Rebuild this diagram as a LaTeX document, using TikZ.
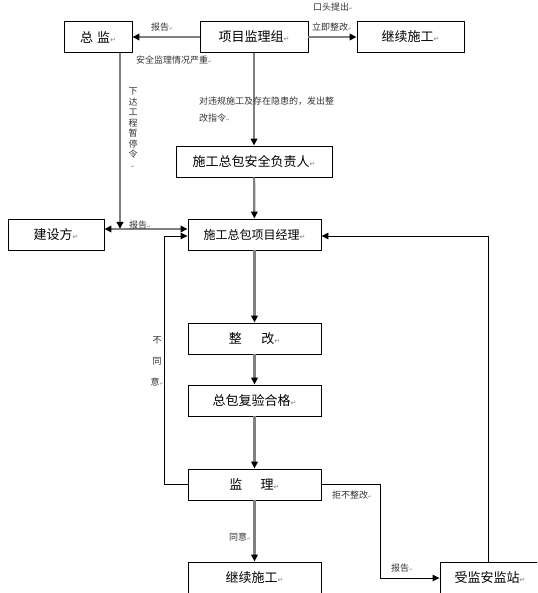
\documentclass[tikz,border=0pt]{standalone}
\usepackage{fontspec}
\setmainfont{Noto Sans CJK SC}
\newfontfamily\markfont{DejaVu Sans}
\usetikzlibrary{arrows.meta,positioning}
\newcommand{\parmark}{{\fontsize{7}{8}\markfont\color{gray}↵}}
\newcommand{\lmark}{{\fontsize{4.5}{5}\markfont\color{gray}↵}}

\begin{document}
\begin{tikzpicture}[x=1pt,y=-1pt,
    tri/.tip={Triangle[length=7pt,width=6.5pt,color=black]},
    box/.style={draw, line width=0.9pt, minimum height=31pt, inner sep=0pt, font=\fontsize{13}{15}\selectfont},
    flow/.style={draw=gray, line width=2.2pt, -tri},
    back/.style={draw=black, line width=0.9pt, -tri},
    lab/.style={font=\fontsize{9}{11}\selectfont, text=black!80, inner sep=0pt}]
    \useasboundingbox (0,0) rectangle (537,593);
    \clip (0,0) rectangle (537,593);
    \node[box, minimum width=68pt] (zj) at (98,37) {总\hspace{4pt}监\parmark};
    \node[box, minimum width=108pt] (xm) at (254,37) {项目监理组\parmark};
    \node[box, minimum width=107pt] (jx) at (410.5,37) {继续施工\parmark};
    \node[box, minimum width=156pt] (aq) at (254,161.5) {施工总包安全负责人\parmark};
    \node[box, minimum width=96pt] (js) at (56,234.5) {建设方\parmark};
    \node[box, minimum width=133pt, font=\fontsize{12}{14}\selectfont] (jl) at (254.5,234.5) {施工总包项目经理\parmark};
    \node[box, minimum width=133pt] (zg) at (254.5,338.5) {整\hspace{1.5em}改\parmark};
    \node[box, minimum width=133pt] (fy) at (254.5,400.5) {总包复验合格\parmark};
    \node[box, minimum width=133pt] (jli) at (254.5,484.5) {监\hspace{1.4em}理\parmark};
    \node[box, minimum width=133pt, text height=20pt, text depth=20pt] (jx2) at (254.5,582) {继续施工\parmark};
    \node[box, minimum width=100pt, text height=20pt, text depth=20pt] (ajz) at (490,582) {受监安监站\parmark};
    \draw[flow] (xm) -- (zj);
    \draw[flow] (xm) -- (jx);
    \draw[flow] (xm) -- (aq);
    \draw[flow] (aq) -- (jl);
    \draw[flow] (jl) -- (zg);
    \draw[flow] (zg) -- (fy);
    \draw[flow] (fy) -- (jli);
    \draw[flow] (jli) -- (jx2);
    \coordinate (bg) at (120,229);
    \draw[flow] (zj.south -| bg) -- (bg);
    \draw[flow, tri-tri] ([yshift=5.5pt]js.east) -- ([yshift=5.5pt]jl.west);
    \coordinate (lp) at (164,236);
    \draw[back] (jli.west) -| (lp) -- (lp -| jl.west);
    \coordinate (rp) at (380,578);
    \draw[back] (jli.east) -| (rp) -- (rp -| ajz.west);
    \coordinate (up) at (488,236);
    \draw[back] (ajz.north -| up) -- (up) -- (up -| jl.east);
    \node[lab] (l1) at (162,27) {报告\lmark};
    \node[lab, anchor=west] (l2) at (136,60) {安全监理情况严重\lmark};
    \node[lab] (l3) at (333,7) {口头提出\lmark};
    \node[lab] (l4) at (332,27) {立即整改\lmark};
    \node[lab, align=center, font=\fontsize{9}{10.5}\selectfont] (l5) at (133,128) {下\\达\\工\\程\\暂\\停\\令\\\lmark};
    \node[lab, anchor=west, align=left, font=\fontsize{9}{17}\selectfont] (l6) at (199,110) {对违规施工及存在隐患的，发出整\\改指令\lmark};
    \node[lab] (l7) at (140,225) {报告\lmark};
    \node[lab, align=center, font=\fontsize{9}{21}\selectfont] (l8) at (157,361) {不\\同\\意\lmark};
    \node[lab] (l9) at (352,495) {拒不整改\lmark};
    \node[lab] (l10) at (240,537) {同意\lmark};
    \node[lab] (l11) at (402,568) {报告\lmark};
\end{tikzpicture}
\end{document}
